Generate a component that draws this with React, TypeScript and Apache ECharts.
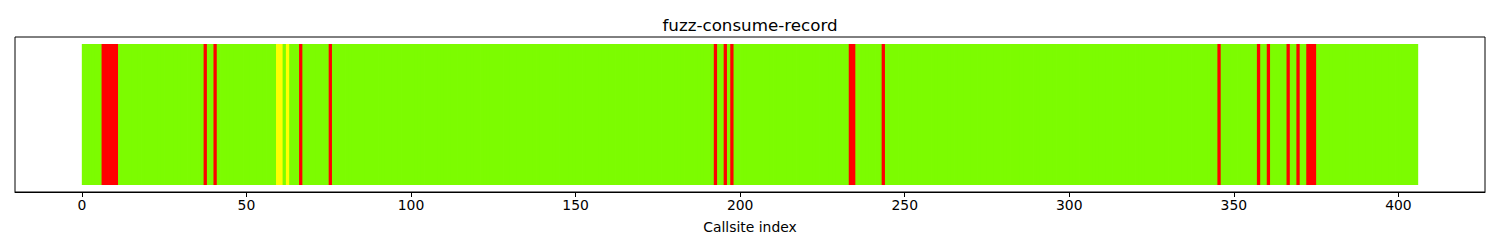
import React, { useEffect, useRef } from "react";
import * as echarts from "echarts";

// ---- data ----
const TITLE = "fuzz-consume-record";
const X_LABEL = "Callsite index";
const BAR_COUNT = 406; // callsites 0..405
const redBars = [6, 7, 8, 9, 10, 37, 40, 66, 75, 192, 195, 197, 233, 234, 243, 345, 357, 360, 366, 369, 372, 373, 374];
const yellowBars = [59, 60, 62];
const tickValues = [0, 50, 100, 150, 200, 250, 300, 350, 400];
const COLORS = { ok: "#7CFC00", bad: "#FF0000", warn: "#FFFF00" };

const callsites = Array.from({ length: BAR_COUNT }, (_, i) => i);
const statusOf = (i: number) => (redBars.includes(i) ? "bad" : yellowBars.includes(i) ? "warn" : "ok");

export default function App() {
  const ref = useRef<HTMLDivElement>(null);
  useEffect(() => {
    if (!ref.current) return;
    const chart = echarts.init(ref.current, undefined, { renderer: "svg" });
    const margin = BAR_COUNT * 0.05;
    const font = "DejaVu Sans";
    chart.setOption({
      animation: false,
      backgroundColor: "#fff",
      textStyle: { fontFamily: font },
      title: {
        text: TITLE,
        left: "center",
        top: 11,
        textStyle: { fontFamily: font, fontSize: 16.7, fontWeight: "normal", color: "#000" },
      },
      grid: {
        left: 15,
        right: 15,
        top: 37,
        bottom: 58,
        show: true,
        borderColor: "#000",
        borderWidth: 1,
        backgroundColor: "transparent",
      },
      xAxis: {
        type: "value",
        min: -margin,
        max: BAR_COUNT + margin,
        name: X_LABEL,
        nameLocation: "middle",
        nameGap: 28,
        nameTextStyle: { fontFamily: font, fontSize: 13.9, color: "#000" },
        splitLine: { show: false },
        axisLine: { show: true, onZero: false, lineStyle: { color: "#000", width: 1 } },
        axisTick: { show: true, inside: false, length: 5, lineStyle: { color: "#000", width: 1 }, customValues: tickValues },
        axisLabel: { show: true, color: "#000", fontSize: 13.9, fontFamily: font, margin: 6, customValues: tickValues },
      },
      yAxis: {
        type: "value",
        min: -0.05,
        max: 1.05,
        show: false,
        splitLine: { show: false },
      },
      series: [
        {
          type: "custom",
          data: callsites.map((i) => ({ value: [i, i + 1, 1] })),
          renderItem: (params: any, api: any) => {
            const idx = params.dataIndex;
            const color = COLORS[statusOf(callsites[idx]) as keyof typeof COLORS];
            const p0 = api.coord([api.value(0), api.value(2)]);
            const p1 = api.coord([api.value(1), 0]);
            // overlap into the next bar (drawn on top) to avoid antialiasing seams
            const extra = idx < callsites.length - 1 ? 0.8 : 0;
            return {
              type: "rect",
              shape: { x: p0[0], y: p0[1], width: p1[0] - p0[0] + extra, height: p1[1] - p0[1] },
              style: { fill: color },
            };
          },
        },
      ],
    });
    return () => chart.dispose();
  }, []);
  return <div ref={ref} style={{ position: "absolute", left: 0, top: 0, width: 1500, height: 250 }} />;
}
